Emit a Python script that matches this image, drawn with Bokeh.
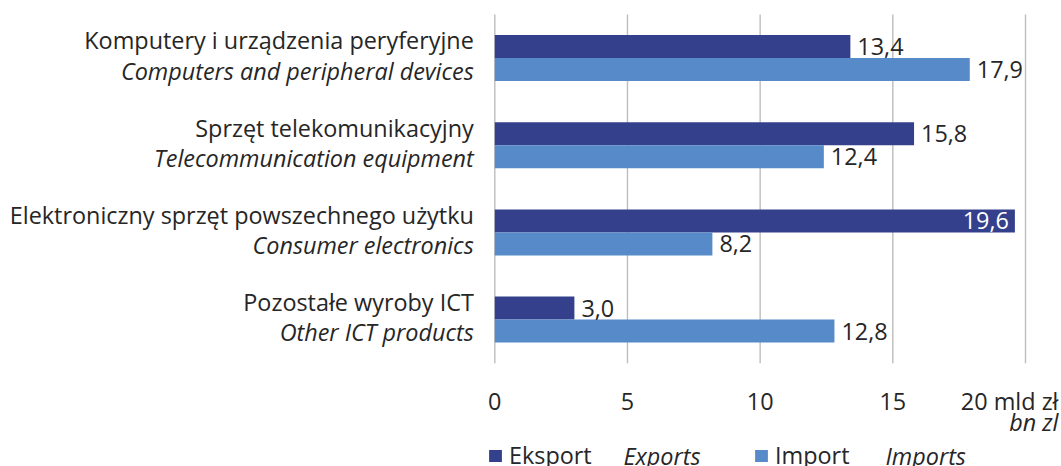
from bokeh.plotting import figure
from bokeh.models import (ColumnDataSource, Range1d, LabelSet, Legend, LegendItem)
from bokeh.core.properties import value
from bokeh.embed import file_html
from bokeh.resources import INLINE

# ---- data ----
categories_pl = ["Komputery i urządzenia peryferyjne", "Sprzęt telekomunikacyjny",
                 "Elektroniczny sprzęt powszechnego użytku", "Pozostałe wyroby ICT"]
categories_en = ["Computers and peripheral devices", "Telecommunication equipment",
                 "Consumer electronics", "Other ICT products"]
eksport = [13.4, 15.8, 19.6, 3.0]
import_ = [17.9, 12.4, 8.2, 12.8]
x_ticks = [0, 5, 10, 15, 20]
series_pl = ["Eksport", "Import"]
series_en = ["Exports", "Imports"]
unit_pl = "mld zł"
unit_en = "bn zl"

# ---- style / layout ----
W, H = 1061, 466
DARK = "#34408C"
LIGHT = "#568AC8"
TEXT = "#262626"
GRID = "#BDBDBD"
FONT_NAME = "Open Sans"
FS_STR = "23.4px"
FONT = value(FONT_NAME)
FS = value(FS_STR)

X0_PX, X20_PX = 494.3, 1025.0        # pixel of x=0 and x=20
TOP_PX, BOT_PX = 14.0, 362.7         # pixel of top / bottom of the category area
n = len(categories_pl)
PX_X = (X20_PX - X0_PX) / x_ticks[-1]
PX_Y = (BOT_PX - TOP_PX) / n


def y_at(page_y):
    return (BOT_PX - page_y) / PX_Y


BAR_H = 23 / PX_Y
OFF = BAR_H / 2

p = figure(width=W, height=H, title=None,
           x_range=Range1d(-X0_PX / PX_X, x_ticks[-1] + (W - X20_PX) / PX_X),
           y_range=Range1d(y_at(H), y_at(0)),
           x_axis_type=None, y_axis_type=None,
           output_backend="svg", toolbar_location=None,
           min_border_left=0, min_border_right=0,
           min_border_top=0, min_border_bottom=0)
p.outline_line_color = None
p.xgrid.visible = False
p.ygrid.visible = False

cy = [n - 0.5 - i for i in range(n)]

src = ColumnDataSource(dict(cat=categories_pl, en=categories_en, eks=eksport, imp=import_,
                            y_e=[c + OFF for c in cy], y_i=[c - OFF for c in cy],
                            y_pl=[c + 8.7 / PX_Y for c in cy],
                            y_en=[c - 21.6 / PX_Y for c in cy]))

# grid lines (only over the category area)
p.segment(x0=x_ticks, x1=x_ticks, y0=[0] * len(x_ticks), y1=[n] * len(x_ticks),
          line_color=GRID, line_width=1.4)

r_e = p.hbar(y="y_e", left=0, right="eks", height=BAR_H, source=src,
             fill_color=DARK, line_color=None)
r_i = p.hbar(y="y_i", left=0, right="imp", height=BAR_H, source=src,
             fill_color=LIGHT, line_color=None)


def fmt(v):
    return f"{v:.1f}".replace(".", ",")


def text_set(xs, ys, texts, x_offset=0, align="left", baseline="alphabetic",
             color=TEXT, italic=False):
    s = ColumnDataSource(dict(x=list(xs), y=list(ys), t=list(texts)))
    p.add_layout(LabelSet(x="x", y="y", text="t", source=s, x_offset=x_offset,
                          text_align=align, text_baseline=baseline,
                          text_font=FONT, text_font_size=FS, text_color=color,
                          text_font_style=value("italic" if italic else "normal")))


def add_value_labels(vals, ys):
    inside = [v >= 18.5 for v in vals]
    for flag, xo, align, color in [(False, 7, "left", TEXT), (True, -6, "right", "white")]:
        rows = [(v, y) for v, y, i in zip(vals, ys, inside) if i == flag]
        if rows:
            text_set([r[0] for r in rows], [r[1] for r in rows],
                     [fmt(r[0]) for r in rows], x_offset=xo, align=align,
                     baseline="middle", color=color)


add_value_labels(eksport, src.data["y_e"])
add_value_labels(import_, src.data["y_i"])

# category labels (Polish normal, English italic)
text_set([0] * n, src.data["y_pl"], categories_pl, x_offset=-21, align="right")
text_set([0] * n, src.data["y_en"], categories_en, x_offset=-21, align="right", italic=True)

# x tick labels
tick_y = y_at(409.5)
text_set(x_ticks[:-1], [tick_y] * (len(x_ticks) - 1), [str(t) for t in x_ticks[:-1]],
         align="center")
text_set([x_ticks[-1]], [tick_y], [f"{x_ticks[-1]} {unit_pl}"], x_offset=33, align="right")
text_set([x_ticks[-1]], [y_at(430.5)], [unit_en], x_offset=33, align="right", italic=True)

# legend
legend = Legend(items=[LegendItem(label=series_pl[0], renderers=[r_e]),
                       LegendItem(label=series_pl[1], renderers=[r_i])],
                location=(487, -5), orientation="horizontal",
                glyph_width=16, glyph_height=15, label_standoff=6,
                label_width=240, spacing=4, padding=0, margin=0,
                border_line_color=None, background_fill_alpha=0,
                label_text_font=FONT_NAME, label_text_font_size=FS_STR,
                label_text_color=TEXT)
p.add_layout(legend)
for xo, t in zip([128.7, 390.7], series_en):
    text_set([0], [y_at(464.3)], [t], x_offset=xo, italic=True)

open("out.html", "w").write(file_html(p, INLINE))
